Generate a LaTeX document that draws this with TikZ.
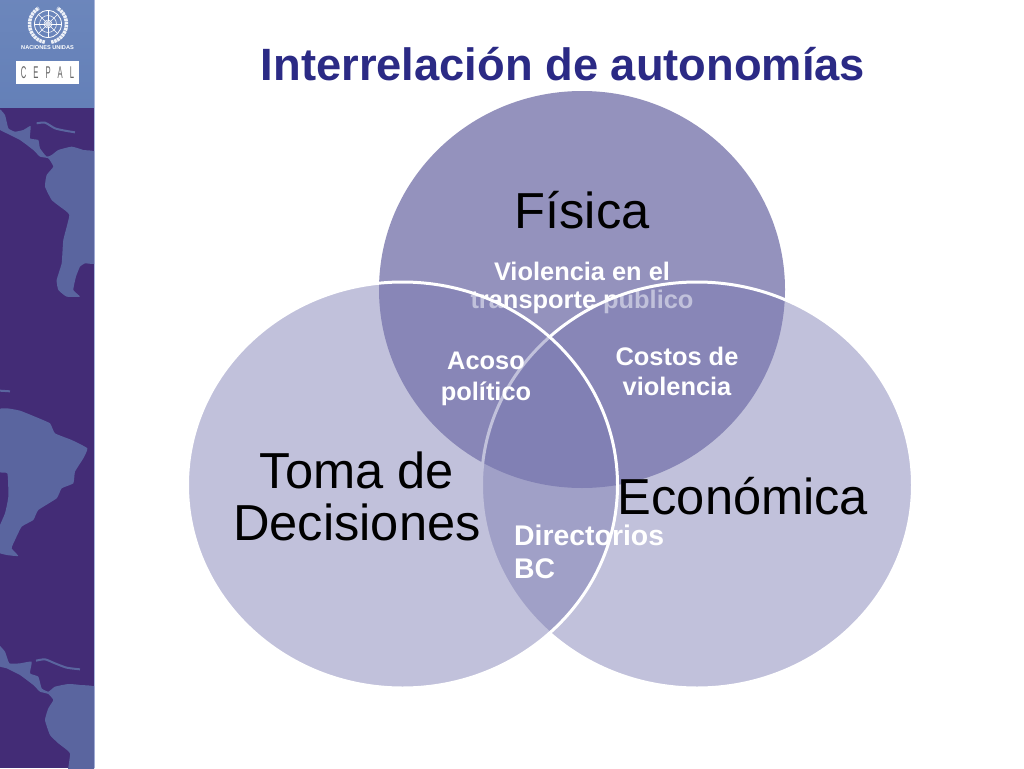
\documentclass[tikz,border=0pt]{standalone}
\usepackage{fontspec}
\setmainfont{Liberation Sans}
\definecolor{titleblue}{HTML}{2B2A85}
\definecolor{sidepurple}{HTML}{432C76}
\definecolor{sideland}{HTML}{5A659F}
\definecolor{sidehead}{HTML}{6480B8}
\definecolor{sideedge}{HTML}{A9B6DC}
\definecolor{topfill}{HTML}{9492BD}
\definecolor{lowfill}{RGB}{122,122,177}
\newcommand{\cepletter}[1]{\scalebox{.45}[1]{#1}}
\tikzset{
	land/.style={fill=sideland,draw=none},
	isle/.style={draw=sideland,line width=2pt},
	lowring/.style={fill=lowfill,fill opacity=.46,draw=white,line width=3pt},
	wreath/.style={draw=white!90!sidehead,line width=3.5pt,dash pattern=on 2.5pt off .7pt},
	bigtext/.style={font=\fontsize{50.6}{52}\selectfont,align=center,inner sep=0pt},
	smalltext/.style={font=\fontsize{25.4}{30}\selectfont\bfseries,text=white,align=center,inner sep=0pt}
}
\begin{document}
\begin{tikzpicture}[x=1pt,y=-1pt]
\useasboundingbox (0,0) rectangle (1024,768);
\fill[white] (0,0) rectangle (1024,768);

% side band
\fill[sidepurple] (0,107) rectangle (94,768);
\shade[top color=sidehead!95!white,bottom color=sidehead] (0,0) rectangle (94,107);
\fill[sideedge] (94,0) rectangle (95,768);

\begin{scope}
\clip (0,0) rectangle (94,768);
\begin{scope}[shift={(0,100)},x=.3333pt,y=-.3333pt]
\fill[land] plot[smooth cycle,tension=.25] coordinates {(-5,25) (15,45) (25,85) (45,95) (70,90) (92,78) (90,115) (115,120) (120,145) (140,170) (155,165) (175,150) (215,140) (250,150) (300,170) (300,478) (255,490) (240,500) (228,530) (220,570) (240,590) (200,590) (175,570) (170,540) (185,490) (190,420) (208,345) (180,320) (155,300) (135,260) (140,225) (160,200) (145,175) (120,170) (100,150) (60,120) (20,100) (-5,85)};
\draw[isle] plot[smooth,tension=.4] coordinates {(110,70) (135,68) (165,85) (195,92) (225,97)};
\end{scope}
\begin{scope}[shift={(0,370)},x=.3333pt,y=-.3333pt]
\fill[land] plot[smooth cycle,tension=.25] coordinates {(-10,125) (20,115) (60,122) (105,140) (150,160) (165,190) (215,210) (262,235) (250,265) (225,305) (220,340) (185,355) (170,385) (115,420) (100,450) (65,470) (45,510) (35,535) (55,558) (20,555) (-10,545) (-10,490) (15,430) (25,380) (22,310) (-10,300)};
\draw[isle] (0,62)--(30,64);
\end{scope}
\begin{scope}[shift={(0,620)},x=.3333pt,y=-.3333pt]
\fill[land] plot[smooth cycle,tension=.25] coordinates {(-10,70) (15,95) (28,130) (60,130) (95,125) (90,160) (115,170) (125,205) (145,215) (165,200) (205,192) (240,195) (300,212) (300,470) (205,470) (210,400) (175,370) (150,345) (135,300) (145,265) (160,240) (145,222) (120,215) (100,195) (60,165) (20,145) (-10,135)};
\draw[isle] plot[smooth,tension=.4] coordinates {(108,122) (135,118) (165,130) (200,143) (240,148)};
\end{scope}
\end{scope}

% emblem
\draw[white,line width=.8pt] (48,24) circle (13.5);
\draw[white,line width=.5pt] (48,24) circle (8.5);
\draw[white,line width=.5pt] (48,24) circle (4);
\foreach \ang in {0,45,...,135} \draw[white,line width=.5pt] (48,24)+(\ang:-13.5)--+(\ang:13.5);
\fill[white!75!sidehead] (48,24) circle (3);
\draw[wreath] (48,24)+(100:18.5) arc (100:240:18.5);
\draw[wreath] (48,24)+(80:18.5) arc (80:-60:18.5);
\node[text=white,font=\fontsize{5.6}{6}\selectfont\bfseries,inner sep=0pt] (unlabel) at (47.5,48) {NACIONES UNIDAS};
\node[fill=white,minimum width=63pt,minimum height=23pt,inner sep=0pt,text=black!60,font=\fontsize{17}{18}\selectfont] (ceplabel) at (47.5,72.5) {\cepletter{C}\hspace{7pt}\cepletter{E}\hspace{7pt}\cepletter{P}\hspace{7pt}\cepletter{A}\hspace{7pt}\cepletter{L}};

\node[text=titleblue,font=\fontsize{45.3}{47}\selectfont\bfseries,inner sep=0pt] (title) at (563,64) {Interrelación de autonomías};

% circles
\fill[topfill] (582,289.5) ellipse (203 and 198.5);
\node[smalltext,font=\fontsize{25.4}{28}\selectfont\bfseries] (violencia) at (582,288) {Violencia en el\\transporte publico};
\draw[lowring] (697,485) ellipse (215.5 and 203);
\draw[lowring] (402.5,485) ellipse (215 and 203);

\node[bigtext] (fisica) at (582,210) {Física};
\node[bigtext] (toma) at (357,496) {Toma de\\Decisiones};
\node[bigtext] (economica) at (743,496) {Económica};
\node[smalltext,font=\fontsize{25.4}{31}\selectfont\bfseries] (acoso) at (486,378.5) {Acoso\\político};
\node[smalltext] (costos) at (677,371) {Costos de\\violencia};
\node[smalltext,font=\fontsize{28.4}{33}\selectfont\bfseries,align=left,anchor=west] (directorios) at (514,552) {Directorios\\BC};
\end{tikzpicture}
\end{document}
